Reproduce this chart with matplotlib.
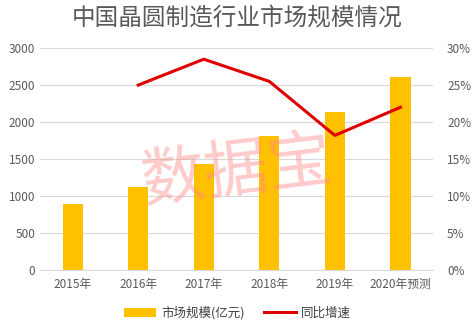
import matplotlib
matplotlib.use("Agg")
import matplotlib.pyplot as plt
import numpy as np

plt.rcParams['font.family'] = ['Noto Sans CJK SC', 'DejaVu Sans']

categories = ["2015年", "2016年", "2017年", "2018年", "2019年", "2020年预测"]
market_size = [892, 1126, 1432, 1811, 2139, 2608]
growth_years = ["2016年", "2017年", "2018年", "2019年", "2020年预测"]
growth = [25.0, 28.5, 25.5, 18.2, 22.0]
left_ticks = [0, 500, 1000, 1500, 2000, 2500, 3000]
right_ticks = [0, 5, 10, 15, 20, 25, 30]

fig = plt.figure(figsize=(4.75, 3.25), dpi=100)
ax = fig.add_axes([0.084, 0.169, 0.828, 0.683])
x = np.arange(len(categories))
ax.bar(x, market_size, width=0.31, color="#FFC000", label="市场规模(亿元)", zorder=2)
ax.set_ylim(0, 3000)
ax.set_xlim(-0.5, len(categories) - 0.5)
ax.set_yticks(left_ticks)
ax.set_xticks(x)
ax.set_xticklabels(categories)
ax.grid(axis='y', color="#D9D9D9", linewidth=0.8, zorder=0)
for s in ['top', 'right', 'left']:
    ax.spines[s].set_visible(False)
ax.spines['bottom'].set_color("#D9D9D9")
ax.tick_params(length=0, colors="#595959", labelsize=8.5)
ax.tick_params(axis='x', pad=6)

ax2 = ax.twinx()
gx = [categories.index(c) for c in growth_years]
ax2.plot(gx, growth, color="#E00000", linewidth=2.2, label="同比增速", zorder=3)
ax2.set_ylim(0, 30)
ax2.set_yticks(right_ticks)
ax2.set_yticklabels([f"{t}%" for t in right_ticks])
for s in ['top', 'right', 'left', 'bottom']:
    ax2.spines[s].set_visible(False)
ax2.tick_params(length=0, colors="#595959", labelsize=8.5, pad=10)

fig.text(0.5, 0.945, "中国晶圆制造行业市场规模情况", ha='center', va='center',
         fontsize=17, color="#595959")

fig.text(0.499, 0.47, "数据宝", ha='center', va='center', fontsize=46,
         color="#FF8A8A", alpha=0.45, rotation=7, zorder=10)

h1, l1 = ax.get_legend_handles_labels()
h2, l2 = ax2.get_legend_handles_labels()
fig.legend(h1 + h2, l1 + l2, loc='center', bbox_to_anchor=(0.5, 0.037), ncol=2,
           frameon=False, fontsize=9, labelcolor="#404040", handlelength=2.6,
           columnspacing=1.5, handletextpad=0.4)

fig.savefig("out.png", dpi=100)
